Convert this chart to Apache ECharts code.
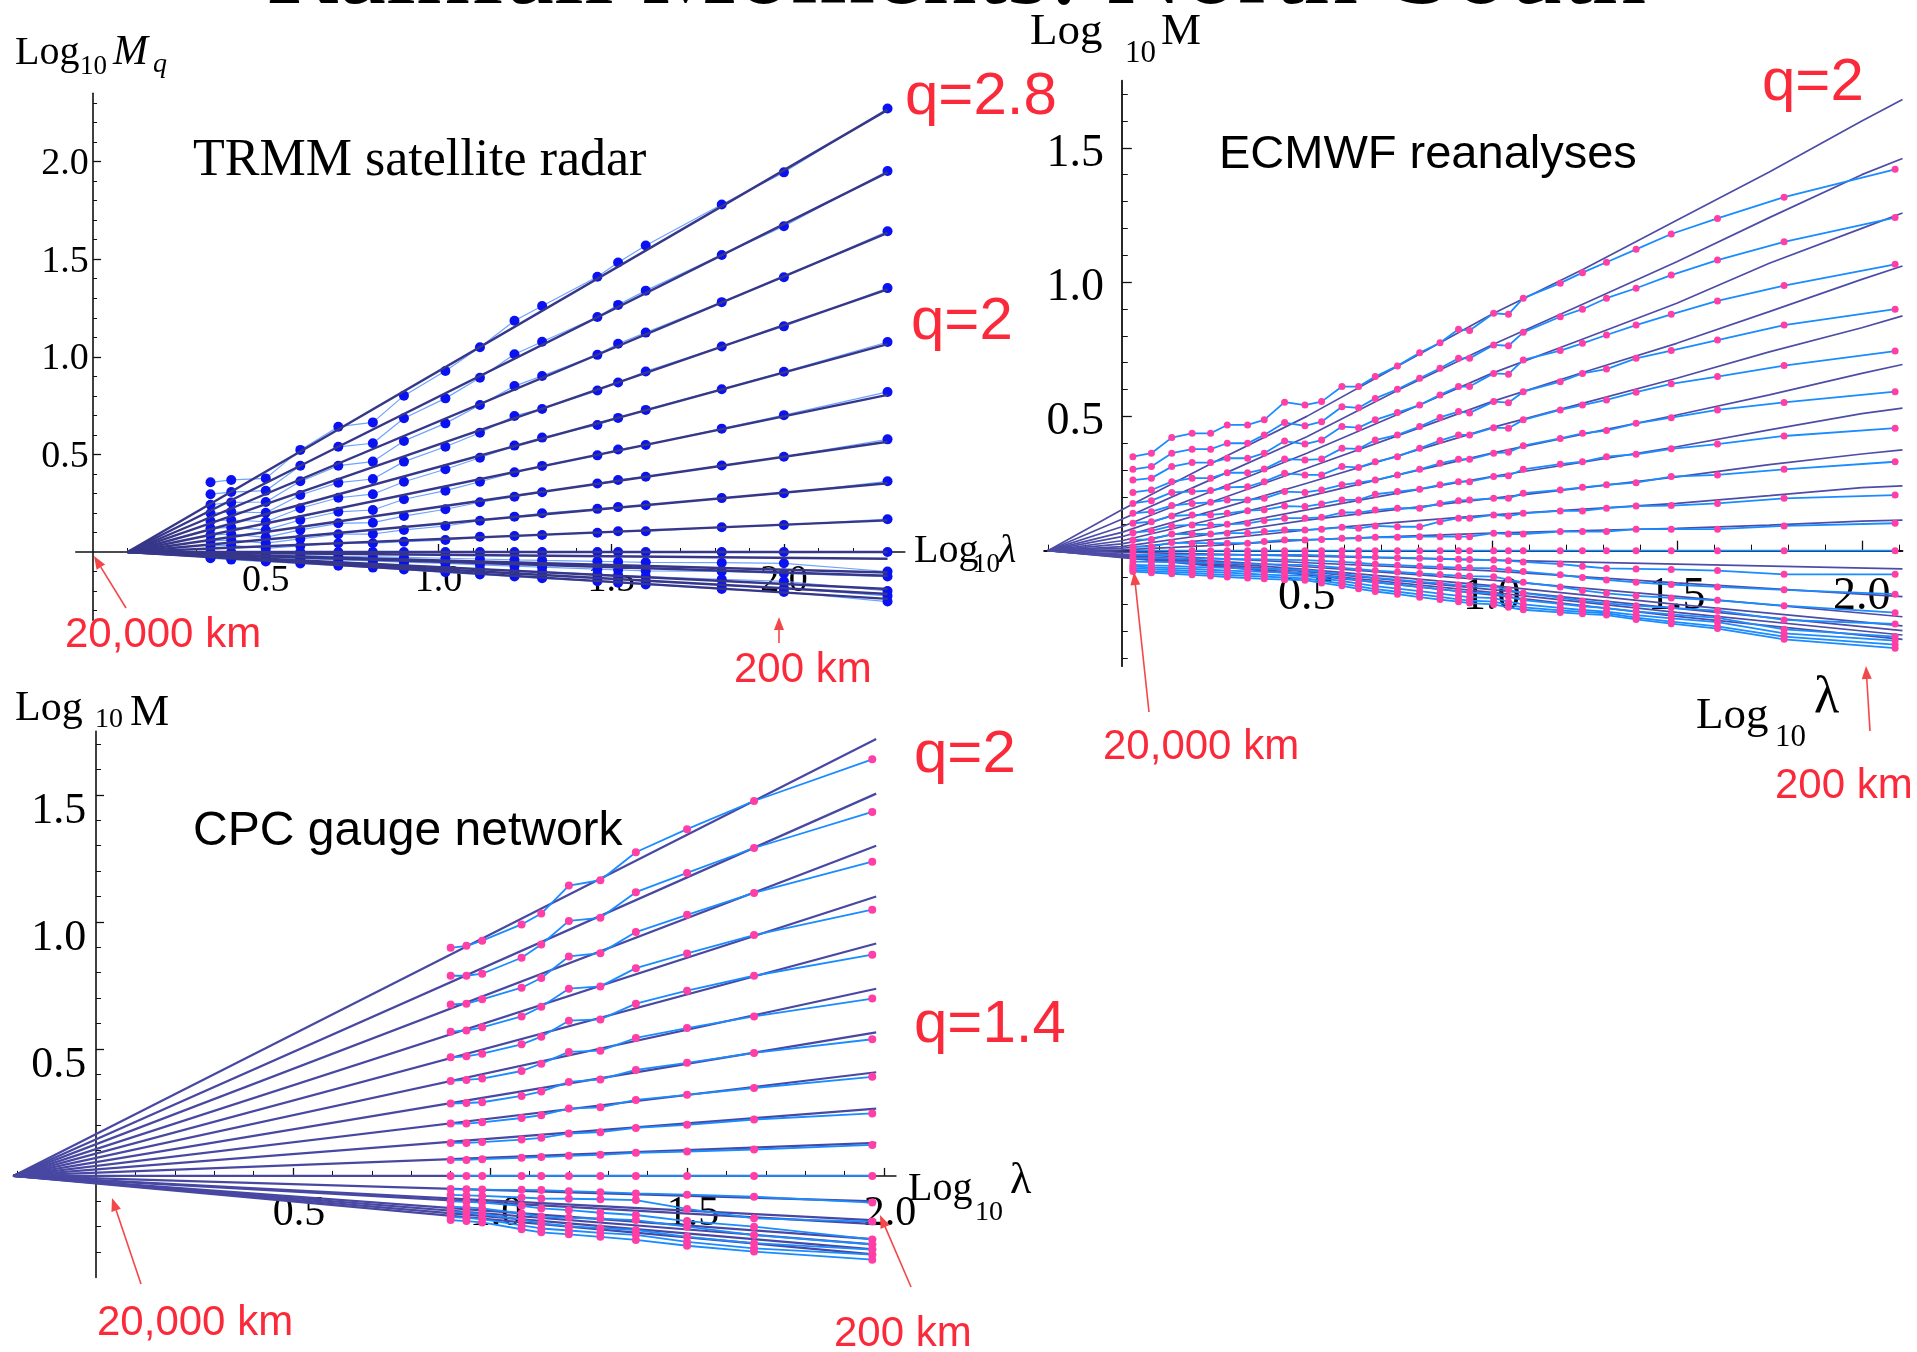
<!DOCTYPE html>
<html><head><meta charset="utf-8">
<script src="https://cdn.jsdelivr.net/npm/echarts@6/dist/echarts.min.js"></script>
<style>html,body{margin:0;padding:0;background:#fff}#c{width:1917px;height:1352px}</style>
</head><body><div id="c"></div>
<script>
// ================= DATA =================
// Panel 1: TRMM satellite radar
const P1_X = [0.34, 0.40, 0.50, 0.60, 0.71, 0.81, 0.90, 1.02, 1.12, 1.22, 1.30, 1.46, 1.52, 1.60, 1.82, 2.00, 2.30];
const P1_POS = [
 [0.357,0.369,0.377,0.523,0.642,0.664,0.801,0.927,1.049,1.185,1.260,1.410,1.483,1.570,1.780,1.945,2.272],
 [0.296,0.307,0.314,0.442,0.539,0.557,0.685,0.787,0.893,1.013,1.077,1.204,1.266,1.339,1.522,1.669,1.952],
 [0.242,0.254,0.256,0.362,0.442,0.463,0.569,0.659,0.753,0.850,0.902,1.010,1.067,1.124,1.280,1.408,1.643],
 [0.198,0.206,0.201,0.292,0.355,0.374,0.463,0.539,0.611,0.697,0.733,0.827,0.868,0.925,1.053,1.156,1.352],
 [0.159,0.164,0.155,0.224,0.278,0.296,0.360,0.424,0.483,0.545,0.586,0.651,0.687,0.728,0.834,0.923,1.076],
 [0.121,0.126,0.113,0.164,0.206,0.215,0.270,0.314,0.360,0.408,0.441,0.495,0.525,0.548,0.632,0.701,0.820],
 [0.087,0.092,0.075,0.113,0.147,0.150,0.184,0.219,0.255,0.283,0.306,0.351,0.369,0.385,0.443,0.488,0.577],
 [0.058,0.061,0.045,0.067,0.091,0.092,0.113,0.133,0.160,0.181,0.198,0.221,0.230,0.239,0.276,0.301,0.362],
 [0.031,0.034,0.019,0.031,0.045,0.045,0.053,0.061,0.078,0.082,0.087,0.099,0.106,0.106,0.127,0.138,0.168],
 [0,0,0,0,0,0,0,0,0,0,0,0,0,0,0,0,0]
];
const P1_NEG = [
 [-0.010,-0.012,-0.015,-0.018,-0.022,-0.025,-0.028,-0.032,-0.036,-0.040,-0.043,-0.048,-0.050,-0.053,-0.055,-0.058,-0.100],
 [-0.018,-0.022,-0.028,-0.034,-0.040,-0.046,-0.052,-0.058,-0.066,-0.072,-0.078,-0.088,-0.092,-0.097,-0.100,-0.110,-0.126],
 [-0.024,-0.029,-0.036,-0.044,-0.052,-0.060,-0.068,-0.078,-0.088,-0.096,-0.102,-0.115,-0.120,-0.126,-0.140,-0.150,-0.200],
 [-0.028,-0.034,-0.043,-0.052,-0.062,-0.072,-0.080,-0.092,-0.102,-0.112,-0.120,-0.135,-0.140,-0.150,-0.170,-0.185,-0.225],
 [-0.032,-0.039,-0.049,-0.059,-0.070,-0.080,-0.090,-0.104,-0.115,-0.126,-0.135,-0.150,-0.158,-0.166,-0.190,-0.205,-0.254]
];
const P1_FIT_X = [0.10, 2.30];
const P1_FIT_START = 0;
const P1_FIT_END = [2.265,1.945,1.635,1.345,1.065,0.805,0.565,0.352,0.162,0,-0.035,-0.105,-0.122,-0.19,-0.215,-0.24];

// Panel 2: ECMWF reanalyses
const P2_X = [0.03,0.08,0.135,0.19,0.24,0.285,0.34,0.385,0.44,0.495,0.54,0.595,0.64,0.685,0.745,0.805,0.86,0.91,0.94,1.005,1.045,1.085,1.185,1.245,1.31,1.39,1.485,1.61,1.79,2.09];
const P2_POS = [
 [0.350,0.363,0.421,0.437,0.437,0.468,0.468,0.487,0.553,0.542,0.555,0.611,0.611,0.648,0.688,0.737,0.774,0.824,0.820,0.884,0.880,0.940,0.996,1.035,1.074,1.122,1.179,1.237,1.316,1.420],
 [0.303,0.313,0.363,0.378,0.378,0.400,0.400,0.431,0.477,0.465,0.480,0.536,0.532,0.567,0.601,0.642,0.679,0.716,0.716,0.766,0.763,0.813,0.871,0.899,0.940,0.977,1.026,1.082,1.150,1.240],
 [0.263,0.270,0.313,0.328,0.328,0.344,0.344,0.363,0.408,0.397,0.412,0.462,0.458,0.487,0.514,0.542,0.580,0.611,0.611,0.660,0.657,0.710,0.745,0.772,0.803,0.840,0.880,0.930,0.987,1.066],
 [0.217,0.226,0.257,0.270,0.270,0.290,0.290,0.304,0.341,0.338,0.341,0.381,0.379,0.412,0.431,0.462,0.496,0.518,0.513,0.555,0.551,0.592,0.629,0.660,0.676,0.716,0.745,0.784,0.840,0.899],
 [0.176,0.186,0.217,0.220,0.224,0.236,0.238,0.257,0.288,0.282,0.282,0.313,0.310,0.331,0.350,0.381,0.410,0.431,0.431,0.458,0.456,0.487,0.524,0.542,0.561,0.590,0.621,0.648,0.689,0.743],
 [0.139,0.145,0.168,0.176,0.180,0.189,0.189,0.195,0.220,0.217,0.226,0.245,0.253,0.263,0.282,0.303,0.325,0.340,0.340,0.363,0.366,0.391,0.418,0.437,0.447,0.474,0.495,0.524,0.552,0.592],
 [0.102,0.108,0.129,0.133,0.133,0.139,0.149,0.152,0.166,0.164,0.174,0.189,0.189,0.210,0.220,0.229,0.245,0.257,0.257,0.276,0.279,0.303,0.322,0.331,0.350,0.359,0.379,0.397,0.427,0.456],
 [0.067,0.074,0.092,0.096,0.096,0.098,0.102,0.112,0.121,0.121,0.124,0.142,0.142,0.151,0.158,0.158,0.176,0.186,0.189,0.195,0.195,0.214,0.226,0.236,0.245,0.253,0.276,0.282,0.303,0.331],
 [0.040,0.042,0.062,0.062,0.062,0.065,0.065,0.071,0.077,0.077,0.080,0.087,0.083,0.092,0.089,0.089,0.108,0.121,0.121,0.133,0.129,0.139,0.148,0.148,0.158,0.166,0.168,0.176,0.195,0.207],
 [0.015,0.015,0.030,0.028,0.028,0.028,0.028,0.034,0.040,0.040,0.042,0.046,0.046,0.050,0.050,0.052,0.052,0.052,0.052,0.065,0.062,0.062,0.071,0.071,0.071,0.080,0.080,0.080,0.092,0.102],
 [0,0,0,0,0,0,0,0,0,0,0,0,0,0,0,0,0,0,0,0,0,0,0,0,0,0,0,0,0,0]
];
const P2_NEG = [
 [-0.016,-0.016,-0.016,-0.016,-0.016,-0.016,-0.016,-0.016,-0.016,-0.016,-0.018,-0.02,-0.022,-0.024,-0.026,-0.028,-0.03,-0.032,-0.033,-0.035,-0.038,-0.042,-0.05,-0.058,-0.066,-0.068,-0.07,-0.074,-0.088,-0.088],
 [-0.028,-0.028,-0.029,-0.03,-0.03,-0.031,-0.032,-0.033,-0.034,-0.035,-0.038,-0.042,-0.046,-0.05,-0.054,-0.058,-0.06,-0.063,-0.064,-0.066,-0.072,-0.078,-0.09,-0.1,-0.109,-0.118,-0.126,-0.135,-0.146,-0.162],
 [-0.041,-0.042,-0.043,-0.044,-0.045,-0.047,-0.049,-0.05,-0.052,-0.053,-0.058,-0.064,-0.069,-0.074,-0.079,-0.085,-0.089,-0.093,-0.095,-0.097,-0.108,-0.118,-0.135,-0.148,-0.159,-0.168,-0.176,-0.185,-0.205,-0.231],
 [-0.053,-0.055,-0.057,-0.06,-0.062,-0.064,-0.066,-0.068,-0.07,-0.072,-0.079,-0.087,-0.094,-0.101,-0.108,-0.116,-0.122,-0.128,-0.131,-0.134,-0.146,-0.158,-0.175,-0.187,-0.196,-0.205,-0.213,-0.223,-0.258,-0.273],
 [-0.059,-0.062,-0.065,-0.068,-0.071,-0.074,-0.077,-0.079,-0.082,-0.084,-0.092,-0.101,-0.11,-0.118,-0.126,-0.135,-0.143,-0.151,-0.155,-0.159,-0.172,-0.184,-0.198,-0.207,-0.214,-0.226,-0.237,-0.25,-0.293,-0.32],
 [-0.066,-0.069,-0.072,-0.076,-0.079,-0.082,-0.086,-0.089,-0.092,-0.094,-0.103,-0.113,-0.123,-0.132,-0.141,-0.151,-0.16,-0.168,-0.173,-0.177,-0.19,-0.2,-0.213,-0.221,-0.227,-0.24,-0.252,-0.266,-0.308,-0.335],
 [-0.072,-0.076,-0.079,-0.083,-0.087,-0.09,-0.094,-0.097,-0.1,-0.103,-0.112,-0.123,-0.133,-0.143,-0.153,-0.163,-0.172,-0.181,-0.186,-0.19,-0.202,-0.211,-0.222,-0.228,-0.233,-0.249,-0.264,-0.282,-0.32,-0.35],
 [-0.078,-0.082,-0.086,-0.09,-0.094,-0.098,-0.102,-0.105,-0.108,-0.11,-0.12,-0.131,-0.142,-0.152,-0.162,-0.173,-0.182,-0.19,-0.195,-0.2,-0.211,-0.22,-0.23,-0.235,-0.24,-0.256,-0.272,-0.29,-0.33,-0.363]
];
const P2_MODEL_X = [-0.2, 0, 0.25, 0.5, 0.75, 1.0, 1.25, 1.5, 1.75, 2.0, 2.11];
const P2_MODEL_POS = [
 [0,0.152,0.33,0.50,0.69,0.88,1.05,1.23,1.41,1.60,1.68],
 [0,0.117,0.27,0.424,0.60,0.766,0.92,1.076,1.24,1.40,1.46],
 [0,0.089,0.225,0.363,0.51,0.66,0.79,0.921,1.07,1.20,1.257],
 [0,0.068,0.185,0.307,0.43,0.555,0.665,0.772,0.89,1.01,1.06],
 [0,0.052,0.15,0.251,0.355,0.458,0.55,0.642,0.74,0.83,0.874],
 [0,0.037,0.118,0.201,0.283,0.363,0.435,0.505,0.58,0.66,0.693],
 [0,0.025,0.088,0.152,0.215,0.276,0.33,0.387,0.45,0.51,0.531],
 [0,0.015,0.063,0.114,0.155,0.195,0.235,0.275,0.32,0.36,0.375],
 [0,0.009,0.042,0.077,0.106,0.133,0.155,0.176,0.205,0.235,0.241],
 [0,0.003,0.02,0.040,0.053,0.065,0.075,0.083,0.095,0.11,0.114]
];
const P2_MODEL_NEG_X = [-0.2, 0.5, 1.0, 1.5, 2.11];
const P2_MODEL_NEG = [
 [0,-0.02,-0.035,-0.05,-0.068],
 [0,-0.045,-0.075,-0.12,-0.171],
 [0,-0.06,-0.11,-0.17,-0.246],
 [0,-0.07,-0.13,-0.2,-0.28],
 [0,-0.078,-0.145,-0.215,-0.298],
 [0,-0.085,-0.155,-0.23,-0.314],
 [0,-0.09,-0.165,-0.245,-0.33]
];

// Panel 3: CPC gauge network
const P3_X = [0.90, 0.94, 0.98, 1.08, 1.13, 1.20, 1.28, 1.37, 1.50, 1.67, 1.97];
const P3_POS = [
 [0.898,0.906,0.926,0.990,1.033,1.143,1.164,1.274,1.365,1.476,1.640],
 [0.788,0.788,0.796,0.859,0.911,1.004,1.016,1.117,1.193,1.291,1.433],
 [0.675,0.678,0.695,0.741,0.779,0.864,0.877,0.960,1.028,1.114,1.237],
 [0.568,0.572,0.585,0.628,0.666,0.737,0.746,0.818,0.876,0.948,1.048],
 [0.467,0.471,0.481,0.518,0.548,0.611,0.616,0.678,0.729,0.788,0.871],
 [0.374,0.378,0.383,0.413,0.442,0.488,0.493,0.543,0.582,0.628,0.698],
 [0.285,0.287,0.290,0.315,0.332,0.370,0.380,0.417,0.445,0.484,0.538],
 [0.206,0.206,0.211,0.228,0.239,0.265,0.270,0.299,0.319,0.346,0.390],
 [0.130,0.130,0.133,0.143,0.150,0.167,0.172,0.189,0.201,0.222,0.246],
 [0.063,0.063,0.066,0.071,0.074,0.079,0.083,0.091,0.096,0.104,0.122],
 [0,0,0,0,0,0,0,0,0,0,0]
];
const P3_NEG = [
 [-0.052,-0.053,-0.054,-0.055,-0.056,-0.06,-0.064,-0.069,-0.074,-0.082,-0.105],
 [-0.075,-0.077,-0.079,-0.085,-0.089,-0.09,-0.092,-0.095,-0.13,-0.167,-0.18],
 [-0.10,-0.102,-0.105,-0.118,-0.128,-0.135,-0.145,-0.154,-0.178,-0.2,-0.25],
 [-0.121,-0.124,-0.128,-0.148,-0.161,-0.165,-0.168,-0.174,-0.2,-0.233,-0.27],
 [-0.141,-0.145,-0.15,-0.172,-0.187,-0.198,-0.206,-0.213,-0.24,-0.265,-0.29],
 [-0.161,-0.165,-0.17,-0.195,-0.207,-0.215,-0.224,-0.232,-0.26,-0.285,-0.31],
 [-0.174,-0.178,-0.183,-0.21,-0.222,-0.23,-0.24,-0.252,-0.275,-0.298,-0.33]
];
const P3_MODEL_X = [-0.21, 1.98];
const P3_MODEL_START = 0;
const P3_MODEL_END = [1.72,1.505,1.30,1.10,0.915,0.737,0.565,0.408,0.265,0.130,0,-0.10,-0.175,-0.19,-0.25,-0.27,-0.29,-0.31];

const TICKS = [0.5, 1.0, 1.5, 2.0];
const TICKS_Y3 = [0.5, 1.0, 1.5];

// ================= CHART =================
const SERIF = 'Liberation Serif', SANS = 'Liberation Sans';
const RED = '#fb2a3a', ARROW = '#f4474a';
const chart = echarts.init(document.getElementById('c'), null, {renderer: 'canvas'});

const pts = (X, Y) => X.map((x, i) => [x, Y[i]]);
const series = [];
function addData(g, X, rows, o) {
  rows.forEach(r => series.push({
    type: 'line', xAxisIndex: g, yAxisIndex: g, data: pts(X, r),
    symbol: 'circle', symbolSize: o.size, showSymbol: true, showAllSymbol: true,
    lineStyle: {color: o.line, width: o.lw}, itemStyle: {color: o.dot, borderWidth: 0},
    z: o.z, silent: true, animation: false, emphasis: {disabled: true}
  }));
}
function addModel(g, X, rows, o) {
  rows.forEach(r => series.push({
    type: 'line', xAxisIndex: g, yAxisIndex: g, data: pts(X, r),
    symbol: 'none', showSymbol: false,
    lineStyle: {color: o.color, width: o.lw}, z: o.z, silent: true, animation: false,
    emphasis: {disabled: true}
  }));
}

// Panel 1
addData(0, P1_X, P1_POS.concat(P1_NEG), {size: 10, line: '#6ea3ff', lw: 1.2, dot: '#0a12f2', z: 2});
addModel(0, P1_FIT_X, P1_FIT_END.map(e => [P1_FIT_START, e]), {color: '#37378a', lw: 2.4, z: 3});
// Panel 2
addModel(1, P2_MODEL_X, P2_MODEL_POS, {color: '#4d4da8', lw: 1.7, z: 2});
addModel(1, P2_MODEL_NEG_X, P2_MODEL_NEG, {color: '#4d4da8', lw: 1.7, z: 2});
addData(1, P2_X, P2_POS.concat(P2_NEG), {size: 7, line: '#1a8cff', lw: 1.8, dot: '#ff3ea6', z: 3});
// Panel 3
addModel(2, P3_MODEL_X, P3_MODEL_END.map(e => [P3_MODEL_START, e]), {color: '#4848a3', lw: 2.2, z: 2});
addData(2, P3_X, P3_POS.concat(P3_NEG), {size: 8, line: '#1a8cff', lw: 1.8, dot: '#ff3ea6', z: 3});

const xAxis = [], yAxis = [];
function baseAxis(g, range, vals, o, label) {
  return {
    type: 'value', gridIndex: g, min: range[0], max: range[1],
    axisLine: {show: true, onZero: true, lineStyle: {color: '#111', width: o.aw}},
    axisTick: {show: true, inside: true, length: o.tl, customValues: vals, lineStyle: {color: '#111', width: 1.3}},
    minorTick: {show: true, splitNumber: 5, length: o.ml, lineStyle: {color: '#111', width: 1}},
    axisLabel: Object.assign({show: true, customValues: vals, formatter: v => Number(v).toFixed(1),
      fontFamily: SERIF, color: '#000'}, label),
    splitLine: {show: false}, minorSplitLine: {show: false}
  };
}
function axes(g, xr, yr, o) {
  xAxis.push(baseAxis(g, xr, TICKS, o, {fontSize: o.fs, margin: o.xm, padding: o.xpad}));
  // y labels: top-aligned with a line box so the glyphs sit slightly below their ticks, as in the original
  yAxis.push(baseAxis(g, yr, o.yt, o, {fontSize: o.yfs || o.fs, margin: o.ym, verticalAlign: 'top', lineHeight: o.ylh}));
}
// label margins are measured from the grid edge (labels stay at the edge), so they reach back to the zero lines
axes(0, [-0.05, 2.35], [-0.35, 2.35], {aw: 1.6, tl: 8, ml: 4, fs: 38, xm: -58, ym: -13, yt: TICKS,
  xpad: [0, 0, 0, 0], ylh: 5});
axes(1, [-0.21, 2.11], [-0.43, 1.75], {aw: 1.8, tl: 10, ml: 6, fs: 46, xm: -92, ym: -60, yt: TICKS_Y3,
  xpad: [0, 0, 0, 0], ylh: 12});
axes(2, [-0.21, 2.03], [-0.40, 1.75], {aw: 1.6, tl: 8, ml: 5, fs: 42, yfs: 44, xm: -85, ym: -73, yt: TICKS_Y3,
  xpad: [0, 0, 0, 12], ylh: 34});

const grid = [
  {left: 75.8, top: 93.3, width: 829, height: 527, containLabel: false, outerBoundsMode: 'none'},
  {left: 1044.1, top: 80.65, width: 858.4, height: 585.5, containLabel: false, outerBoundsMode: 'none'},
  {left: 13.3, top: 731.4, width: 882.6, height: 546.1, containLabel: false, outerBoundsMode: 'none'}
];

// ---------- annotation text ----------
function T(text, x, bl, size, fam, opts) {
  opts = opts || {};
  const k = fam === SANS ? 0.3465 : 0.3375;
  return {type: 'text', x: x, y: bl - size * k, z: 100, silent: true,
    style: {text: text, fontSize: size, fontFamily: fam, fontStyle: opts.italic ? 'italic' : 'normal',
      fill: opts.color || '#000', align: 'left', verticalAlign: 'middle',
      textAlign: 'left', textVerticalAlign: 'middle'}};
}
function arrow(x1, y1, x2, y2) {
  const a = Math.atan2(y2 - y1, x2 - x1), L = 13, W = 5;
  const bx = x2 - L * Math.cos(a), by = y2 - L * Math.sin(a);
  const px = -Math.sin(a) * W, py = Math.cos(a) * W;
  return [
    {type: 'line', z: 100, silent: true, shape: {x1: x1, y1: y1, x2: bx, y2: by}, style: {stroke: ARROW, lineWidth: 1.6}},
    {type: 'polygon', z: 100, silent: true, shape: {points: [[x2, y2], [bx + px, by + py], [bx - px, by - py]]}, style: {fill: ARROW}}
  ];
}
const graphics = [
  T('Rainfall Moments: North-South', 266, 11, 108, SERIF),
  // panel 1
  T('Log', 15, 67, 40, SERIF), T('10', 80, 76, 27, SERIF), T('M', 113, 67, 42, SERIF, {italic: true}), T('q', 153, 74, 28, SERIF, {italic: true}),
  T('TRMM satellite radar', 193, 178.5, 52, SERIF),
  T('q=2.8', 905, 118.6, 60, SANS, {color: RED}),
  T('q=2', 911, 343.5, 60, SANS, {color: RED}),
  T('Log', 914, 564.7, 40, SERIF), T('10', 973, 574, 27, SERIF), T('λ', 999, 564.7, 40, SERIF, {italic: true}),
  T('20,000 km', 65, 650.4, 42, SANS, {color: RED}),
  T('200 km', 734, 684.7, 42, SANS, {color: RED}),
  // panel 2
  T('Log', 1030, 47.3, 45, SERIF), T('10', 1125, 64.7, 31, SERIF), T('M', 1161, 47.3, 45, SERIF),
  T('ECMWF reanalyses', 1219, 171, 47, SANS),
  T('q=2', 1762, 104, 60, SANS, {color: RED}),
  T('Log', 1696, 731.3, 45, SERIF), T('10', 1775, 748.8, 31, SERIF), T('λ', 1814, 716, 52, SERIF),
  T('20,000 km', 1103, 761.7, 42, SANS, {color: RED}),
  T('200 km', 1775, 800.8, 42, SANS, {color: RED}),
  // panel 3
  T('Log', 15, 723, 42, SERIF), T('10', 95, 729, 28, SERIF), T('M', 130, 728, 44, SERIF),
  T('CPC gauge network', 193, 848.5, 48, SANS),
  T('q=2', 914, 776, 60, SANS, {color: RED}),
  T('q=1.4', 914, 1046.6, 60, SANS, {color: RED}),
  T('Log', 908, 1203, 40, SERIF), T('10', 975, 1222, 28, SERIF), T('λ', 1010, 1196.5, 44, SERIF),
  T('20,000 km', 97, 1337.5, 42, SANS, {color: RED}),
  T('200 km', 834, 1348.5, 42, SANS, {color: RED})
].concat(
  arrow(126, 608, 94, 556), arrow(779, 643, 779, 617),
  arrow(1149, 712, 1134, 572), arrow(1870, 731, 1866, 666),
  arrow(141, 1284, 112, 1198), arrow(911, 1287, 880, 1215)
);

chart.setOption({
  backgroundColor: '#fff',
  animation: false,
  grid: grid, xAxis: xAxis, yAxis: yAxis, series: series,
  graphic: {elements: graphics},
  tooltip: {show: false}, legend: {show: false}
});
</script>
</body></html>
